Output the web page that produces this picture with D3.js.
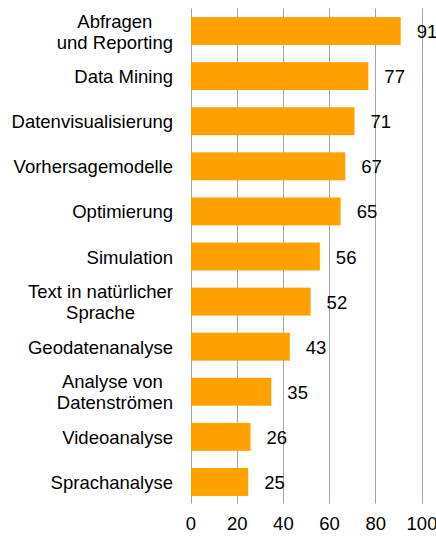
<!DOCTYPE html>
<html>
<head>
<meta charset="utf-8">
<script src="https://cdn.jsdelivr.net/npm/d3@7"></script>
<style>
  body { margin: 0; background: #fff; }
  text { font-family: "Liberation Sans", Arial, sans-serif; fill: #000; }
</style>
</head>
<body>
<div id="chart"></div>
<script>
// chart data
const categories = [
  "Abfragen\nund Reporting",
  "Data Mining",
  "Datenvisualisierung",
  "Vorhersagemodelle",
  "Optimierung",
  "Simulation",
  "Text in natürlicher\nSprache",
  "Geodatenanalyse",
  "Analyse von \nDatenströmen",
  "Videoanalyse",
  "Sprachanalyse"
];
const values = [91, 77, 71, 67, 65, 56, 52, 43, 35, 26, 25];
const xTicks = [0, 20, 40, 60, 80, 100];

const width = 436, height = 538;
const margin = {top: 8.5, right: 14.5, bottom: 33.5, left: 190.5};
const fontSize = 18.5;

const svg = d3.select("#chart").append("svg")
  .attr("width", width)
  .attr("height", height);

// scales
const x = d3.scaleLinear().domain([0, 100]).range([margin.left, width - margin.right]);
const y = d3.scaleBand().domain(d3.range(categories.length))
  .range([margin.top, height - margin.bottom]).paddingInner(0.38).paddingOuter(0.19);

// vertical grid lines
svg.append("g")
  .selectAll("line")
  .data(xTicks)
  .join("line")
  .attr("x1", d => Math.round(x(d)) + 0.5)
  .attr("x2", d => Math.round(x(d)) + 0.5)
  .attr("y1", margin.top)
  .attr("y2", height - margin.bottom - 1)
  .attr("stroke", "#a6a6a6")
  .attr("stroke-width", 1);

// bars
svg.append("g")
  .selectAll("rect")
  .data(values)
  .join("rect")
  .attr("x", x(0) + 0.5)
  .attr("y", (d, i) => y(i))
  .attr("width", d => x(d) - x(0) - 0.5)
  .attr("height", y.bandwidth())
  .attr("fill", "#ffa200");

// value labels
svg.append("g")
  .selectAll("text")
  .data(values)
  .join("text")
  .attr("x", d => x(d) + 16)
  .attr("y", (d, i) => y(i) + y.bandwidth() / 2 + 7)
  .attr("font-size", fontSize)
  .text(d => d);

// category labels (multi-line, centered in a right-aligned block)
const labelRight = 173;
const lineH = 21;
const catG = svg.append("g");
categories.forEach((c, i) => {
  const lines = c.split("\n");
  const cy = y(i) + y.bandwidth() / 2;
  const t = catG.append("text").attr("font-size", fontSize).attr("text-anchor", "middle");
  const spans = lines.map((l, k) => t.append("tspan")
    .attr("y", cy + 7 + (k - (lines.length - 1) / 2) * lineH)
    .text(l));
  const maxW = d3.max(spans, s => s.node().getComputedTextLength());
  spans.forEach(s => s.attr("x", labelRight - maxW / 2));
});

// x axis labels
const xAxis = svg.append("g")
  .attr("transform", `translate(0, ${height - margin.bottom})`)
  .call(d3.axisBottom(x).tickValues(xTicks).tickSize(0).tickPadding(0));
xAxis.select(".domain").remove();
xAxis.selectAll("text")
  .attr("dy", null)
  .attr("y", 25)
  .attr("font-size", fontSize)
  .attr("font-family", "Liberation Sans, Arial, sans-serif")
  .attr("fill", "#000");
</script>
</body>
</html>
